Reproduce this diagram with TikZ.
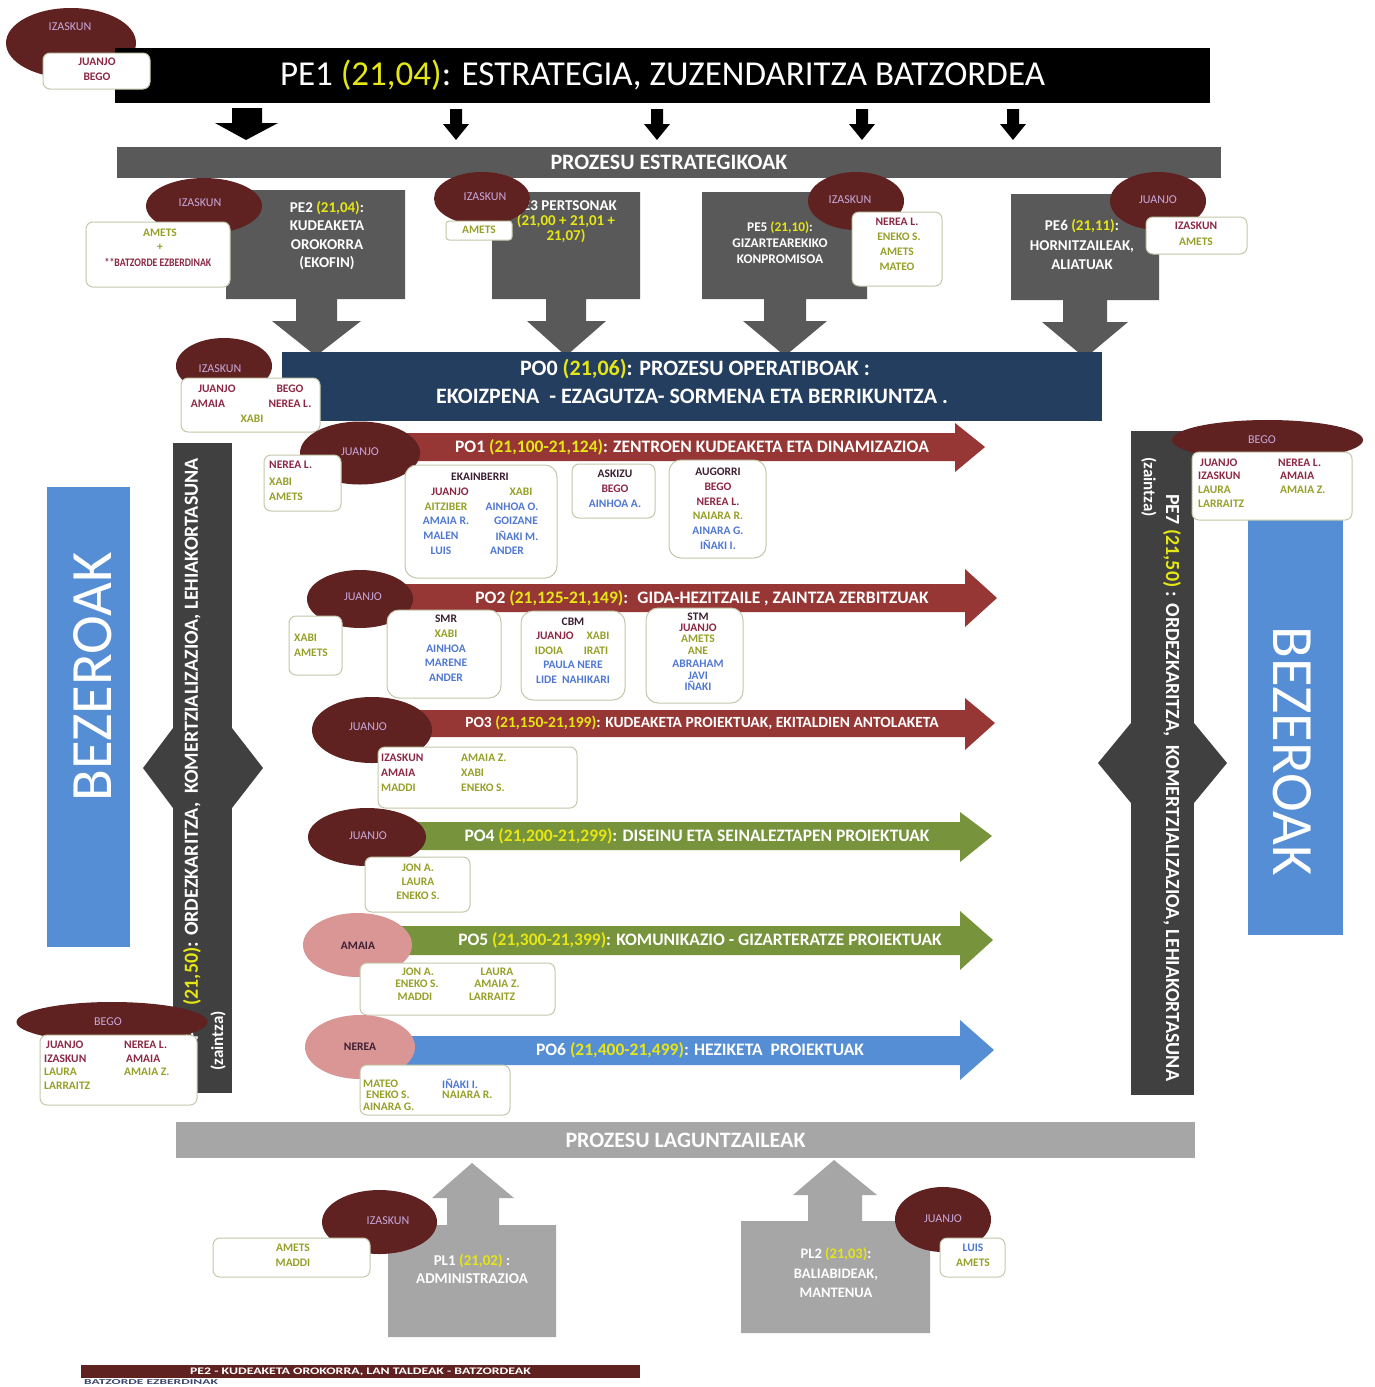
\documentclass[tikz,border=0pt]{standalone}
\usepackage{fontspec}
\usepackage{graphicx}
\setmainfont{Carlito}
\usetikzlibrary{shapes.geometric}
\definecolor{maroonf}{RGB}{96,33,33}
\definecolor{pinkell}{RGB}{217,150,148}
\definecolor{dgray}{RGB}{89,89,89}
\definecolor{lgray}{RGB}{166,166,166}
\definecolor{navyb}{RGB}{36,62,96}
\definecolor{darkbar}{RGB}{64,64,64}
\definecolor{redarr}{RGB}{150,55,53}
\definecolor{greenarr}{RGB}{119,147,60}
\definecolor{bluearr}{RGB}{85,142,213}
\definecolor{ylw}{RGB}{230,230,20}
\definecolor{tm}{RGB}{140,40,70}
\definecolor{to}{RGB}{150,160,40}
\definecolor{tb}{RGB}{80,120,210}
\definecolor{tk}{RGB}{60,30,50}
\definecolor{elltext}{RGB}{200,170,220}
\definecolor{boxedge}{RGB}{195,200,170}
\definecolor{foott}{RGB}{60,70,110}
\newcommand\nmfont{\fontsize{11.5}{12}\selectfont\bfseries}
\newcommand\elfont{\fontsize{12}{13}\selectfont}
\newcounter{lbl}
\newcommand\nmt[4][center]{\stepcounter{lbl}\node[nametxt,text=#3,anchor=#1] (L\thelbl) at (#2) {#4};}
\newcommand\elab[2]{\stepcounter{lbl}\node[elabel] (L\thelbl) at (#1) {#2};}
\newcommand\yl[1]{\textcolor{ylw}{#1}}
\begin{document}
\begin{tikzpicture}[x=1pt,y=-1pt,
  nametxt/.style={font=\nmfont, inner sep=0pt},
  elabel/.style={font=\elfont, text=elltext, inner sep=0pt},
  mell/.style={ellipse, fill=maroonf, inner sep=0pt},
  pell/.style={ellipse, fill=pinkell, inner sep=0pt},
  wbox/.style={rectangle, rounded corners=7pt, draw=boxedge, line width=1pt, fill=white, inner sep=0pt},
  bar/.style={rectangle, inner sep=0pt, text=white},
  petxt/.style={text=white, align=center, inner sep=0pt},
  potxt/.style={text=white, inner sep=0pt, font=\fontsize{17.5}{19}\selectfont\bfseries}
]
\useasboundingbox (0,0) rectangle (1375,1387);
\fill[white] (0,0) rectangle (1375,1387);

% ---------- top ----------
\node[mell, minimum width=130pt, minimum height=70pt] (e0) at (71,43) {};
\elab{70,27}{IZASKUN}
\node[bar, fill=black, minimum width=1095pt, minimum height=55pt,
      font=\fontsize{35}{38}\selectfont] (pe1) at (662.5,75.5)
      {PE1 \yl{(21,04)}: ESTRATEGIA, ZUZENDARITZA BATZORDEA};
\node[wbox, minimum width=107pt, minimum height=36pt] (b0) at (96.5,71) {};
\nmt{97,62}{tm}{JUANJO}
\nmt{97,77}{tm}{BEGO}

% black down arrows
\fill[black] (232,108) -- (262,108) -- (262,123) -- (278,123) -- (246,140) -- (215,123) -- (232,123) -- cycle;
\foreach \cx in {456,657,862,1013}{
  \fill[black] (\cx-6,109) -- (\cx+6,109) -- (\cx+6,124) -- (\cx+13,124) -- (\cx,140) -- (\cx-13,124) -- (\cx-6,124) -- cycle;
}

\node[bar, fill=dgray, minimum width=1104pt, minimum height=31pt,
      font=\fontsize{22}{24}\selectfont\bfseries] (pest) at (669,162.5) {PROZESU ESTRATEGIKOAK};

% ---------- PE boxes ----------
\fill[dgray] (226,190) -- (405,190) -- (405,299) -- (337,299) -- (337,321) -- (361,321) -- (316,356) -- (272,321) -- (296,321) -- (296,299) -- (226,299) -- cycle;
\fill[dgray] (492,192) -- (640,192) -- (640,299) -- (586,299) -- (586,321) -- (606,321) -- (566,356) -- (527,321) -- (546,321) -- (546,299) -- (492,299) -- cycle;
\fill[dgray] (702,192) -- (867,192) -- (867,299) -- (806,299) -- (806,321) -- (827,321) -- (785,356) -- (743,321) -- (764,321) -- (764,299) -- (702,299) -- cycle;
\fill[dgray] (1011,194) -- (1159,194) -- (1159,300) -- (1107,300) -- (1107,322) -- (1128,322) -- (1085,358) -- (1042,322) -- (1063,322) -- (1063,300) -- (1011,300) -- cycle;

\node[petxt, font=\fontsize{15}{18.5}\selectfont\bfseries] (pe2t) at (327,235.5) {PE2 \yl{(21,04)}:\\KUDEAKETA\\OROKORRA\\(EKOFIN)};
\node[petxt, font=\fontsize{15}{15}\selectfont\bfseries] (pe3t) at (566,222) {PE3 PERTSONAK\\\yl{(21,00 + 21,01 +}\\\yl{21,07)}};
\node[petxt, font=\fontsize{13.3}{16}\selectfont\bfseries] (pe5t) at (780,243) {PE5 \yl{(21,10)}:\\GIZARTEAREKIKO\\KONPROMISOA};
\node[petxt, font=\fontsize{15}{19.5}\selectfont\bfseries] (pe6t) at (1082,244.5) {PE6 \yl{(21,11)}:\\HORNITZAILEAK,\\ALIATUAK};

\node[mell, minimum width=116pt, minimum height=56pt] (e2) at (204,206) {};
\elab{200,203}{IZASKUN}
\node[wbox, minimum width=144pt, minimum height=65pt] (b2) at (158,254.5) {};
\nmt{160,233}{to}{AMETS}
\nmt{160,247}{to}{+}
\node[nametxt, text=tm] (bzez) at (158,262) {\scalebox{0.85}[1]{**BATZORDE EZBERDINAK}};

\node[mell, minimum width=96pt, minimum height=53pt] (e3) at (482,198.5) {};
\elab{485,197}{IZASKUN}
\node[wbox, rounded corners=3pt, minimum width=66pt, minimum height=19pt] (b3) at (479,230.5) {};
\nmt{479,230}{to}{AMETS}

\node[mell, minimum width=96pt, minimum height=58pt] (e5) at (856,201) {};
\elab{850,200}{IZASKUN}
\node[wbox, minimum width=90pt, minimum height=74pt] (b5) at (897,249) {};
\nmt{897,222}{tm}{NEREA L.}
\nmt{899,237}{to}{ENEKO S.}
\nmt{897,252}{to}{AMETS}
\nmt{897,267}{to}{MATEO}

\node[mell, minimum width=96pt, minimum height=58pt] (e6) at (1158,201) {};
\elab{1158,200}{JUANJO}
\node[wbox, minimum width=101pt, minimum height=37pt] (b6) at (1196.5,235.5) {};
\nmt{1196,226}{tm}{IZASKUN}
\nmt{1196,242}{to}{AMETS}

% ---------- PO0 ----------
\node[bar, fill=navyb, minimum width=820pt, minimum height=69pt] (po0) at (692,386.5) {};
\node[potxt, font=\fontsize{22}{24}\selectfont\bfseries] (po0a) at (695,369) {PO0 \yl{(21,06)}: PROZESU OPERATIBOAK :};
\node[potxt, font=\fontsize{22}{24}\selectfont\bfseries] (po0b) at (692,396) {EKOIZPENA~ - EZAGUTZA- SORMENA ETA BERRIKUNTZA .};
\node[mell, minimum width=96pt, minimum height=56pt] (e0b) at (224,366) {};
\elab{220,369}{IZASKUN}
\node[wbox, minimum width=139pt, minimum height=54pt] (b0b) at (250.5,405) {};
\nmt{217,389}{tm}{JUANJO}
\nmt{290,389}{tm}{BEGO}
\nmt{208,404}{tm}{AMAIA}
\nmt{290,404}{tm}{NEREA L.}
\nmt{252,419}{to}{XABI}

% ---------- side bars ----------
\node[bar, fill=darkbar, minimum width=59pt, minimum height=650pt] (lbar) at (202.5,768) {};
\fill[darkbar] (143,768) -- (173,728) -- (232,728) -- (263,768) -- (232,808) -- (173,808) -- cycle;
\node[rotate=90, anchor=east, text=white, inner sep=0pt, font=\fontsize{20}{21}\selectfont\bfseries] (lvt) at (192,458) {PE7 \yl{(21,50)}: ORDEZKARITZA,~ KOMERTZIALIZAZIOA, LEHIAKORTASUNA};
\node[rotate=90, text=white, inner sep=0pt, font=\fontsize{17}{18}\selectfont\bfseries] (lz) at (218,1041) {(zaintza)};

\node[bar, fill=darkbar, minimum width=63pt, minimum height=664pt] (rbar) at (1162.5,763) {};
\fill[darkbar] (1098,763) -- (1131,723) -- (1194,723) -- (1227,763) -- (1194,803) -- (1131,803) -- cycle;
\node[rotate=-90, anchor=west, text=white, inner sep=0pt, font=\fontsize{20}{21}\selectfont\bfseries] (rvt) at (1172,494) {PE7 \yl{(21,50)} : ORDEZKARITZA,~ KOMERTZIALIZAZIOA, LEHIAKORTASUNA};
\node[rotate=-90, text=white, inner sep=0pt, font=\fontsize{17}{18}\selectfont\bfseries] (rz) at (1149,487) {(zaintza)};

\node[bar, fill=bluearr, minimum width=83pt, minimum height=460pt] (bzl) at (88.5,717) {};
\node[rotate=90, text=white, inner sep=0pt, font=\fontsize{58.5}{60}\selectfont] (bzlt) at (93,677) {BEZEROAK};
\node[bar, fill=bluearr, minimum width=95pt, minimum height=428pt] (bzr) at (1295.5,721) {};
\node[rotate=-90, text=white, inner sep=0pt, font=\fontsize{58.5}{60}\selectfont] (bzrt) at (1292,751) {BEZEROAK};

\node[mell, minimum width=191pt, minimum height=40pt] (el) at (112,1022) {};
\elab{108,1022}{BEGO}
\node[wbox, minimum width=157pt, minimum height=70pt] (bl) at (118.5,1070) {};
\nmt[west]{46,1045}{tm}{JUANJO}
\nmt[west]{124,1045}{tm}{NEREA L.}
\nmt[west]{44,1059}{tm}{IZASKUN}
\nmt[west]{126,1059}{tm}{AMAIA}
\nmt[west]{44,1072}{to}{LAURA}
\nmt[west]{124,1072}{to}{AMAIA Z.}
\nmt[west]{44,1086}{to}{LARRAITZ}

\node[mell, minimum width=191pt, minimum height=40pt] (er) at (1267.5,440) {};
\elab{1262,440}{BEGO}
\node[wbox, minimum width=160pt, minimum height=68pt] (br) at (1272,486) {};
\nmt[west]{1200,463}{tm}{JUANJO}
\nmt[west]{1278,463}{tm}{NEREA L.}
\nmt[west]{1198,476}{tm}{IZASKUN}
\nmt[west]{1280,476}{tm}{AMAIA}
\nmt[west]{1198,490}{to}{LAURA}
\nmt[west]{1280,490}{to}{AMAIA Z.}
\nmt[west]{1198,504}{to}{LARRAITZ}

% ---------- PO arrows ----------
\fill[redarr] (400,433) -- (955,433) -- (955,423) -- (985,447) -- (955,472) -- (955,461) -- (400,461) -- cycle;
\node[potxt] (po1t) at (692,447) {PO1 \yl{(21,100-21,124)}: ZENTROEN KUDEAKETA ETA DINAMIZAZIOA};
\fill[redarr] (400,584) -- (965,584) -- (965,569) -- (997,598) -- (965,627) -- (965,612) -- (400,612) -- cycle;
\node[potxt] (po2t) at (702,598) {PO2 \yl{(21,125-21,149)}:~ GIDA-HEZITZAILE , ZAINTZA ZERBITZUAK};
\fill[redarr] (400,710) -- (965,710) -- (965,698) -- (995,723) -- (965,750) -- (965,737) -- (400,737) -- cycle;
\node[potxt, font=\fontsize{15.5}{17}\selectfont\bfseries] (po3t) at (702,723) {PO3 \yl{(21,150-21,199)}: KUDEAKETA PROIEKTUAK, EKITALDIEN ANTOLAKETA};
\fill[greenarr] (400,822) -- (960,822) -- (960,812) -- (992,836) -- (960,862) -- (960,850) -- (400,850) -- cycle;
\node[potxt] (po4t) at (697,836) {PO4 \yl{(21,200-21,299)}: DISEINU ETA SEINALEZTAPEN PROIEKTUAK};
\fill[greenarr] (400,926) -- (960,926) -- (960,911) -- (993,940) -- (960,970) -- (960,955) -- (400,955) -- cycle;
\node[potxt] (po5t) at (700,940) {PO5 \yl{(21,300-21,399)}: KOMUNIKAZIO - GIZARTERATZE PROIEKTUAK};
\fill[bluearr] (400,1036) -- (960,1036) -- (960,1020) -- (994,1050) -- (960,1080) -- (960,1065) -- (400,1065) -- cycle;
\node[potxt] (po6t) at (700,1050) {PO6 \yl{(21,400-21,499)}: HEZIKETA~ PROIEKTUAK};

% PO1 people
\node[mell, minimum width=120pt, minimum height=63pt] (e11) at (360,453) {};
\elab{360,452}{JUANJO}
\node[wbox, minimum width=77pt, minimum height=56pt] (b11) at (302.5,483) {};
\nmt[west]{269,465}{tm}{NEREA L.}
\nmt[west]{269,482}{to}{XABI}
\nmt[west]{269,497}{to}{AMETS}
\node[wbox, rounded corners=12pt, minimum width=152pt, minimum height=113pt] (b12) at (481,521.5) {};
\nmt{480,477}{tk}{EKAINBERRI}
\nmt{450,492}{tm}{JUANJO}
\nmt{521,492}{to}{XABI}
\nmt{446,507}{to}{AITZIBER}
\nmt{512,507}{tb}{AINHOA O.}
\nmt{446,521}{tb}{AMAIA R.}
\nmt{516,521}{tb}{GOIZANE}
\nmt{441,536}{tb}{MALEN}
\nmt{517,536}{tb}{IÑAKI M.}
\nmt{441,551}{tb}{LUIS}
\nmt{507,551}{tb}{ANDER}
\node[wbox, minimum width=83pt, minimum height=54pt] (b13) at (613.5,491) {};
\nmt{615,474}{tk}{ASKIZU}
\nmt{615,489}{tm}{BEGO}
\nmt{615,504}{tb}{AINHOA A.}
\node[wbox, rounded corners=12pt, minimum width=97pt, minimum height=98pt] (b14) at (717.5,509) {};
\nmt{718,472}{tk}{AUGORRI}
\nmt{718,487}{tm}{BEGO}
\nmt{718,502}{tm}{NEREA L.}
\nmt{718,516}{to}{NAIARA R.}
\nmt{718,531}{tb}{AINARA G.}
\nmt{718,545}{tb}{IÑAKI I.}

% PO2 people
\node[mell, minimum width=106pt, minimum height=58pt] (e21) at (360,599) {};
\elab{363,597}{JUANJO}
\node[wbox, minimum width=53pt, minimum height=59pt] (b21) at (315.5,645.5) {};
\nmt[west]{294,638}{to}{XABI}
\nmt[west]{294,653}{to}{AMETS}
\node[wbox, rounded corners=12pt, minimum width=114pt, minimum height=88pt] (b22) at (444,654) {};
\nmt{446,619}{tk}{SMR}
\nmt{446,634}{to}{XABI}
\nmt{446,649}{tb}{AINHOA}
\nmt{446,663}{tb}{MARENE}
\nmt{446,678}{tb}{ANDER}
\node[wbox, rounded corners=12pt, minimum width=104pt, minimum height=89pt] (b23) at (573,655.5) {};
\nmt{573,622}{tk}{CBM}
\nmt{555,636}{tm}{JUANJO}
\nmt{598,636}{to}{XABI}
\nmt{549,651}{to}{IDOIA}
\nmt{596,651}{to}{IRATI}
\nmt{573,665}{tb}{PAULA NERE}
\nmt{573,680}{tb}{LIDE~ NAHIKARI}
\node[wbox, rounded corners=12pt, minimum width=97pt, minimum height=95pt] (b24) at (694.5,655.5) {};
\nmt{698,617}{tk}{STM}
\nmt{698,628}{tm}{JUANJO}
\nmt{698,639}{to}{AMETS}
\nmt{698,651}{to}{ANE}
\nmt{698,664}{tb}{ABRAHAM}
\nmt{698,676}{tb}{JAVI}
\nmt{698,686}{tb}{IÑAKI}

% PO3 people
\node[mell, minimum width=120pt, minimum height=66pt] (e31) at (372,730) {};
\elab{368,727}{JUANJO}
\node[wbox, minimum width=199pt, minimum height=61pt] (b31) at (477.5,777.5) {};
\nmt[west]{381,758}{tm}{IZASKUN}
\nmt[west]{381,773}{tm}{AMAIA}
\nmt[west]{381,788}{to}{MADDI}
\nmt[west]{461,758}{to}{AMAIA Z.}
\nmt[west]{461,773}{to}{XABI}
\nmt[west]{461,788}{to}{ENEKO S.}

% PO4 people
\node[mell, minimum width=118pt, minimum height=58pt] (e41) at (367,837) {};
\elab{368,836}{JUANJO}
\node[wbox, minimum width=105pt, minimum height=55pt] (b41) at (417.5,884.5) {};
\nmt{418,868}{to}{JON A.}
\nmt{418,882}{to}{LAURA}
\nmt{418,896}{to}{ENEKO S.}

% PO5 people
\node[pell, minimum width=109pt, minimum height=64pt] (e51) at (357.5,945) {};
\nmt{358,946}{tk}{AMAIA}
\node[wbox, minimum width=195pt, minimum height=52pt] (b51) at (457.5,989) {};
\nmt{418,972}{to}{JON A.}
\nmt{497,972}{to}{LAURA}
\nmt{417,984}{to}{ENEKO S.}
\nmt{497,984}{to}{AMAIA Z.}
\nmt{415,997}{to}{MADDI}
\nmt{492,997}{to}{LARRAITZ}

% PO6 people
\node[pell, minimum width=110pt, minimum height=64pt] (e61) at (360,1047) {};
\nmt{360,1047}{tk}{NEREA}
\node[wbox, minimum width=150pt, minimum height=50pt] (b61) at (435,1090) {};
\nmt[west]{363,1084}{to}{MATEO}
\nmt[west]{366,1095}{to}{ENEKO S.}
\nmt[west]{363,1107}{to}{AINARA G.}
\nmt[west]{442,1084}{tb}{IÑAKI I.}
\nmt[west]{442,1095}{to}{NAIARA R.}

% ---------- support ----------
\node[bar, fill=lgray, minimum width=1019pt, minimum height=36pt,
      font=\fontsize{22}{24}\selectfont\bfseries] (plag) at (685.5,1140) {PROZESU LAGUNTZAILEAK};
\fill[lgray] (388,1225) -- (447,1225) -- (447,1198) -- (432,1198) -- (472,1163) -- (514,1198) -- (499,1198) -- (499,1225) -- (556,1225) -- (556,1337) -- (388,1337) -- cycle;
\fill[lgray] (741,1221) -- (808,1221) -- (808,1195) -- (793,1195) -- (834,1160) -- (877,1195) -- (862,1195) -- (862,1221) -- (930,1221) -- (930,1333) -- (741,1333) -- cycle;
\node[petxt, font=\fontsize{15}{18}\selectfont\bfseries] (pl1t) at (472,1269) {PL1 \yl{(21,02)} :\\ADMINISTRAZIOA};
\node[petxt, font=\fontsize{14.5}{19.5}\selectfont\bfseries] (pl2t) at (836,1273) {PL2 \yl{(21,03)}:\\BALIABIDEAK,\\MANTENUA};
\node[mell, minimum width=115pt, minimum height=64pt] (ep1) at (379.5,1222) {};
\elab{388,1221}{IZASKUN}
\node[wbox, minimum width=157pt, minimum height=39pt] (bp1) at (291.5,1257.5) {};
\nmt{293,1248}{to}{AMETS}
\nmt{293,1263}{to}{MADDI}
\node[mell, minimum width=96pt, minimum height=65pt] (ep2) at (943,1219.5) {};
\elab{943,1219}{JUANJO}
\node[wbox, minimum width=65pt, minimum height=39pt] (bp2) at (972.5,1257.5) {};
\nmt{973,1248}{tb}{LUIS}
\nmt{973,1263}{to}{AMETS}

% ---------- footer ----------
\node[bar, fill=maroonf, minimum width=559pt, minimum height=13pt,
      font=\fontsize{10}{11}\selectfont\bfseries] (foot) at (360.5,1371.5) {\scalebox{1.38}[1]{PE2 - KUDEAKETA OROKORRA, LAN TALDEAK - BATZORDEAK}};
\node[anchor=north west, inner sep=0pt, text=foott, font=\fontsize{7.5}{8}\selectfont\bfseries] (foot2) at (84,1379.2) {\scalebox{1.8}[1]{BATZORDE EZBERDINAK}};
\end{tikzpicture}
\end{document}
